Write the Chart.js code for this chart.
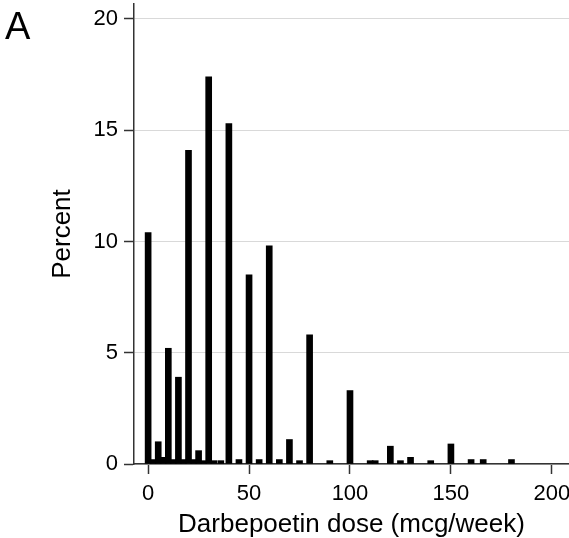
<!DOCTYPE html>
<html>
<head>
<meta charset="utf-8">
<script src="https://cdn.jsdelivr.net/npm/chart.js@4/dist/chart.umd.min.js"></script>
<style>
  html, body { margin: 0; padding: 0; background: #fff; }
  #wrap { width: 569px; height: 538px; }
</style>
</head>
<body>
<div id="wrap"><canvas id="c" width="569" height="538"></canvas></div>
<script>
// dose (mcg/week) and percent of patients
var doses    = [0, 2.5, 5, 7.5, 10, 12.5, 15, 17.5, 20, 22.5, 25, 27.5, 30, 32.5, 36, 40, 45, 50, 55, 60, 65, 70, 75, 80, 90, 100, 110, 112.5, 120, 125, 130, 140, 150, 160, 166, 180];
var percents = [10.4, 0.2, 1.0, 0.3, 5.2, 0.2, 3.9, 0.2, 14.1, 0.2, 0.6, 0.15, 17.4, 0.15, 0.15, 15.3, 0.2, 8.5, 0.2, 9.8, 0.2, 1.1, 0.15, 5.8, 0.15, 3.3, 0.15, 0.15, 0.8, 0.15, 0.3, 0.15, 0.9, 0.2, 0.2, 0.2];

var xTicks = [0, 50, 100, 150, 200];
var yTicks = [0, 5, 10, 15, 20];

var FONT = "'Liberation Sans', Arial, sans-serif";

var points = doses.map(function(d, i){ return {x: d, y: percents[i]}; });

// panel letter in the corner
var panelLabel = {
	id: 'panelLabel',
	afterDraw(chart){
		var ctx = chart.ctx;
		ctx.save();
		ctx.fillStyle = '#000';
		ctx.font = '38px ' + FONT;
		ctx.textBaseline = 'alphabetic';
		ctx.fillText('A', 5, 39);
		ctx.restore();
	}
};

new Chart(document.getElementById('c'), {
	type: 'bar',
	data: {
		datasets: [{
			data: points,
			backgroundColor: '#000',
			borderWidth: 0,
			barThickness: 6
		}]
	},
	options: {
		responsive: false,
		animation: false,
		layout: { padding: { top: 4, right: 0, left: 0, bottom: 0 } },
		plugins: { legend: { display: false }, tooltip: { enabled: false } },
		scales: {
			x: {
				type: 'linear',
				offset: false,
				min: -7,
				max: 208.5,
				afterBuildTicks(scale){ scale.ticks = xTicks.map(function(v){ return {value: v}; }); },
				afterFit(scale){ scale.height = 74; scale.paddingLeft = 0; scale.paddingRight = 0; },
				border: { display: true, color: '#333', width: 1.5 },
				grid: { offset: false, drawOnChartArea: false, drawTicks: true, tickLength: 10, tickColor: '#333', tickWidth: 1.5 },
				ticks: { color: '#000', font: { family: FONT, size: 22 }, padding: 7, maxRotation: 0, autoSkip: false },
				title: { display: true, text: 'Darbepoetin dose (mcg/week)', color: '#000', font: { family: FONT, size: 26, lineHeight: 1 }, padding: { top: 0, bottom: 0 } }
			},
			y: {
				min: 0,
				max: 20.67,
				afterBuildTicks(scale){ scale.ticks = yTicks.map(function(v){ return {value: v}; }); },
				afterFit(scale){ scale.width = 134; scale.paddingTop = 0; scale.paddingBottom = 0; },
				border: { display: true, color: '#333', width: 1.5 },
				grid: { color: '#d9d9d9', lineWidth: 1, drawTicks: true, tickLength: 10, tickColor: '#333', tickWidth: 1.5 },
				ticks: { color: '#000', font: { family: FONT, size: 22 }, padding: 6 },
				title: { display: true, text: 'Percent', color: '#000', font: { family: FONT, size: 26, lineHeight: 1 }, padding: { top: 50, bottom: 0 } }
			}
		}
	},
	plugins: [panelLabel]
});
</script>
</body>
</html>
